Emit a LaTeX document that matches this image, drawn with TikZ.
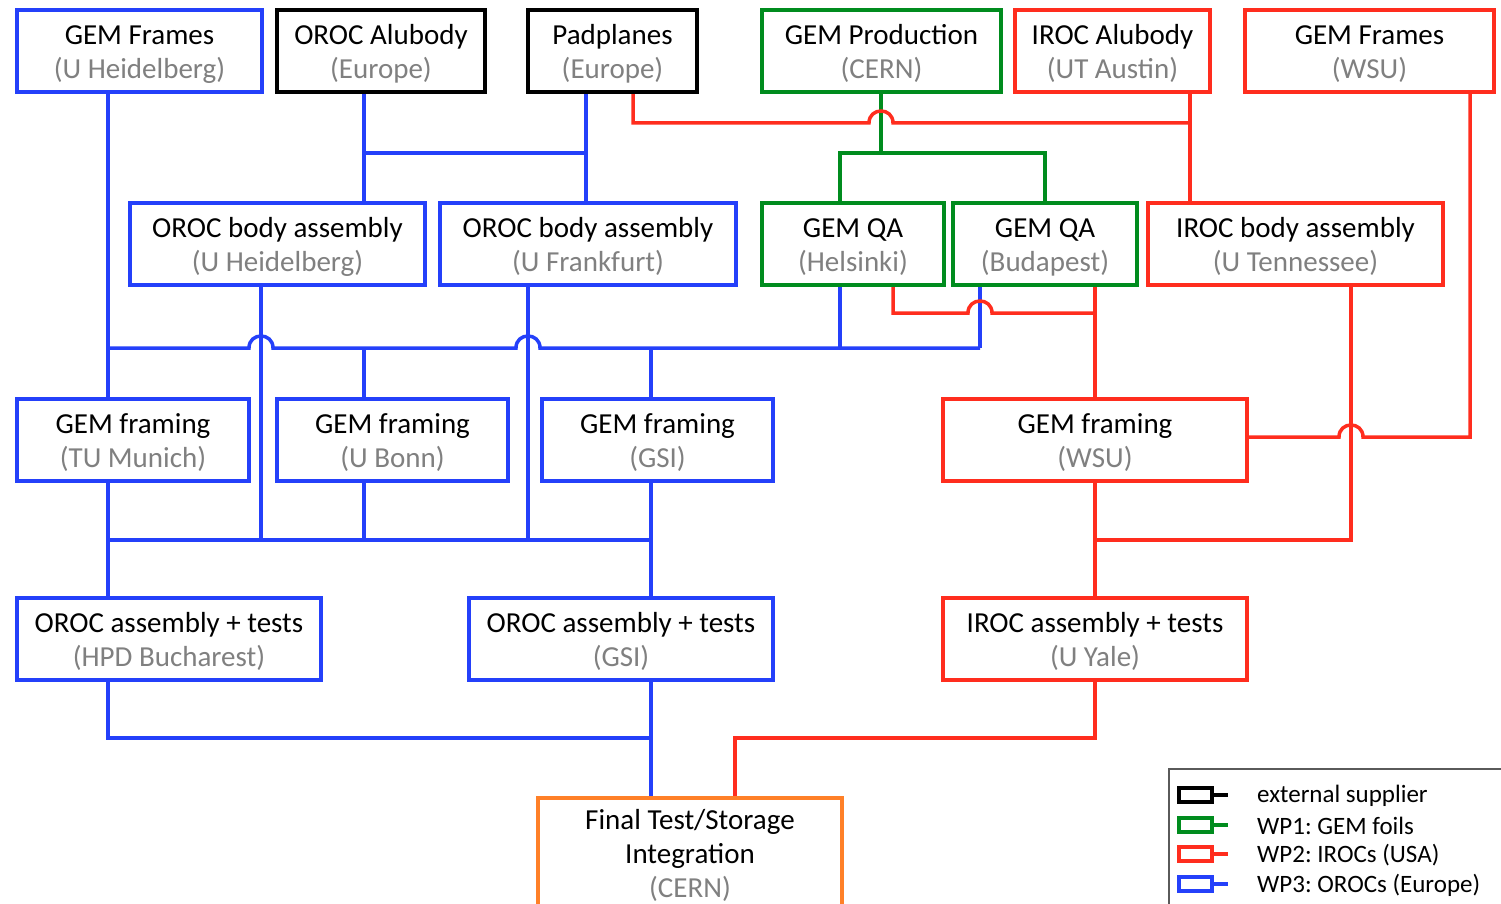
\documentclass[tikz,border=0pt]{standalone}
\usepackage{fontspec}
\setmainfont{Carlito}
\frenchspacing
\definecolor{wpblue}{RGB}{36,64,250}
\definecolor{wpred}{RGB}{255,45,30}
\definecolor{wpgreen}{RGB}{0,140,30}
\definecolor{wporange}{RGB}{255,128,40}
\definecolor{subgray}{RGB}{128,128,128}
\definecolor{leggray}{RGB}{90,90,90}
\newcommand{\sub}[1]{\textcolor{subgray}{#1}}
\newcommand{\bx}[2]{\raisebox{-4pt}[\height][\depth]{\begin{tabular}{@{}c@{}}#1\\\sub{#2}\end{tabular}}}
\newcommand{\hopat}[2]{-- (#1-12,#2) .. controls (#1-12,#2-16) and (#1+12,#2-16) .. (#1+12,#2)}
\begin{document}
\begin{tikzpicture}[x=1pt,y=-1pt,
  box/.style={draw, line width=4pt, inner sep=0pt, align=center, fill=white,
    font=\fontsize{29}{34}\selectfont},
  bluebox/.style={box, draw=wpblue},
  blackbox/.style={box, draw=black},
  greenbox/.style={box, draw=wpgreen},
  redbox/.style={box, draw=wpred},
  orangebox/.style={box, draw=wporange},
  conn/.style={line width=3.5pt, line join=miter},
  bl/.style={conn, draw=wpblue},
  rl/.style={conn, draw=wpred},
  gl/.style={conn, draw=wpgreen},
  legicon/.style={line width=3.5pt},
  legtext/.style={anchor=west, inner sep=0pt, font=\fontsize{25}{30}\selectfont}
]
\useasboundingbox (0,0) rectangle (1501,904);
\clip (0,0) rectangle (1501,904);
\fill[white] (0,0) rectangle (1501,904);

% connectors: blue
\draw[bl] (108,92) -- (108,399);
\draw[bl] (108,481) -- (108,598);
\draw[bl] (364,92) -- (364,203);
\draw[bl] (586,92) -- (586,203);
\draw[bl] (364,153) -- (586,153);
\draw[bl] (108,348) \hopat{261}{348} \hopat{528}{348} -- (980,348);
\draw[bl] (980,285) -- (980,348);
\draw[bl] (840,285) -- (840,348);
\draw[bl] (364,348) -- (364,399);
\draw[bl] (651,348) -- (651,399);
\draw[bl] (261,285) -- (261,540);
\draw[bl] (528,285) -- (528,540);
\draw[bl] (364,481) -- (364,540);
\draw[bl] (108,540) -- (651,540);
\draw[bl] (651,481) -- (651,598);
\draw[bl] (108,680) -- (108,738) -- (651,738);
\draw[bl] (651,680) -- (651,797);
% green
\draw[gl] (881,92) -- (881,153);
\draw[gl] (840,203) -- (840,153) -- (1045,153) -- (1045,203);
% red
\draw[rl] (633,92) -- (633,123) \hopat{881}{123} -- (1190,123);
\draw[rl] (1190,92) -- (1190,203);
\draw[rl] (893,285) -- (893,313) \hopat{980}{313} -- (1095,313);
\draw[rl] (1095,285) -- (1095,399);
\draw[rl] (1351,285) -- (1351,540) -- (1095,540);
\draw[rl] (1247,437) \hopat{1351}{437} -- (1470,437) -- (1470,92);
\draw[rl] (1095,481) -- (1095,598);
\draw[rl] (1095,680) -- (1095,738) -- (735,738) -- (735,797);

% row 1
\node[bluebox, minimum width=245pt, minimum height=82pt] (gfuh) at (139.5,51) {\bx{GEM Frames}{(U Heidelberg)}};
\node[blackbox, minimum width=208pt, minimum height=82pt] (oab) at (381,51) {\bx{OROC Alubody}{(Europe)}};
\node[blackbox, minimum width=169pt, minimum height=82pt] (pad) at (612.5,51) {\bx{Padplanes}{(Europe)}};
\node[greenbox, minimum width=239pt, minimum height=82pt] (gprod) at (881.5,51) {\bx{GEM Production}{(CERN)}};
\node[redbox, minimum width=195pt, minimum height=82pt] (iab) at (1112.5,51) {\bx{IROC Alubody}{(UT Austin)}};
\node[redbox, minimum width=249pt, minimum height=82pt] (gfwsu) at (1369.5,51) {\bx{GEM Frames}{(WSU)}};
% row 2
\node[bluebox, minimum width=295pt, minimum height=82pt] (obuh) at (277.5,244) {\bx{OROC body assembly}{(U Heidelberg)}};
\node[bluebox, minimum width=296pt, minimum height=82pt] (obuf) at (588,244) {\bx{OROC body assembly}{(U Frankfurt)}};
\node[greenbox, minimum width=182pt, minimum height=82pt] (qah) at (853,244) {\bx{GEM QA}{(Helsinki)}};
\node[greenbox, minimum width=184pt, minimum height=82pt] (qab) at (1045,244) {\bx{GEM QA}{(Budapest)}};
\node[redbox, minimum width=295pt, minimum height=82pt] (ibt) at (1295.5,244) {\bx{IROC body assembly}{(U Tennessee)}};
% row 3
\node[bluebox, minimum width=232pt, minimum height=82pt] (gfm) at (133,440) {\bx{GEM framing}{(TU Munich)}};
\node[bluebox, minimum width=231pt, minimum height=82pt] (gfb) at (392.5,440) {\bx{GEM framing}{(U Bonn)}};
\node[bluebox, minimum width=231pt, minimum height=82pt] (gfg) at (657.5,440) {\bx{GEM framing}{(GSI)}};
\node[redbox, minimum width=304pt, minimum height=82pt] (gfw) at (1095,440) {\bx{GEM framing}{(WSU)}};
% row 4
\node[bluebox, minimum width=304pt, minimum height=82pt] (oah) at (169,639) {\bx{OROC assembly + tests}{(HPD Bucharest)}};
\node[bluebox, minimum width=304pt, minimum height=82pt] (oag) at (621,639) {\bx{OROC assembly + tests}{(GSI)}};
\node[redbox, minimum width=304pt, minimum height=82pt] (iay) at (1095,639) {\bx{IROC assembly + tests}{(U Yale)}};
% final
\node[orangebox, minimum width=304pt, minimum height=114pt] (fin) at (690,855) {Final Test/Storage\\Integration\\\sub{(CERN)}};

% legend
\draw[leggray, line width=1.3pt, fill=white] (1169,920) -- (1169,769) -- (1520,769);
\foreach \c/\y/\t/\n in {black/795/external supplier/la, wpgreen/825/WP1: GEM foils/lb, wpred/854/WP2: IROCs (USA)/lc, wpblue/884/WP3: OROCs (Europe)/ld}{
  \draw[legicon, draw=\c] (1179,\y-7) rectangle (1212,\y+7);
  \draw[legicon, draw=\c] (1212,\y) -- (1228,\y);
  \node[legtext] (\n) at (1257,\y+1) {\t};
}
\end{tikzpicture}
\end{document}
